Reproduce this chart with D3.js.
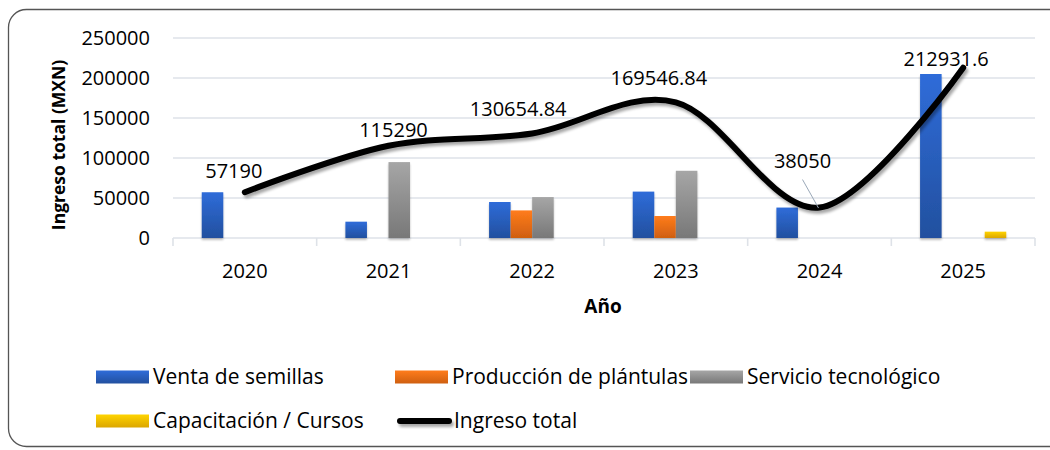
<!DOCTYPE html>
<html>
<head>
<meta charset="utf-8">
<script src="https://cdn.jsdelivr.net/npm/d3@7"></script>
<style>
  html, body { margin: 0; padding: 0; background: #fff; }
  svg { display: block; }
  text { font-family: "Open Sans", Lato, sans-serif; fill: #000; }
</style>
</head>
<body>
<svg id="chart" width="1050" height="450"></svg>
<script>
// ---- Data ----
const years = ["2020", "2021", "2022", "2023", "2024", "2025"];
const seriesNames = ["Venta de semillas", "Producción de plántulas", "Servicio tecnológico", "Capacitación / Cursos"];
const ventaSemillas = [57190, 20400, 45000, 58000, 38050, 205000];
const produccionPlantulas = [0, 0, 34500, 27500, 0, 0];
const servicioTecnologico = [0, 94890, 51154.84, 84046.84, 0, 0];
const capacitacionCursos = [0, 0, 0, 0, 0, 7931.6];
const ingresoTotal = [57190, 115290, 130654.84, 169546.84, 38050, 212931.6];
const totalLabels = ["57190", "115290", "130654.84", "169546.84", "38050", "212931.6"];
const yTicks = [0, 50000, 100000, 150000, 200000, 250000];
const lineName = "Ingreso total";

// ---- Layout ----
const svg = d3.select("#chart");
const plot = { left: 173, right: 1035, top: 38, bottom: 238 };
const seriesValues = [ventaSemillas, produccionPlantulas, servicioTecnologico, capacitacionCursos];
const gradColors = [["#2F6CD9", "#22509F"], ["#FF7C1C", "#CF5F10"], ["#A6A6A6", "#787878"], ["#FFD400", "#DBA600"]];
// label offsets (px) relative to each point, as Excel placed them
const labelDx = [-11, 5, -14, -17, -17, -17];
const labelDy = [-14, -9, -17.5, -17, -40, -2];

const defs = svg.append("defs");
gradColors.forEach((c, i) => {
  const g = defs.append("linearGradient").attr("id", "grad" + i)
    .attr("x1", 0).attr("y1", 0).attr("x2", 0).attr("y2", 1);
  g.append("stop").attr("offset", "0%").attr("stop-color", c[0]);
  g.append("stop").attr("offset", "100%").attr("stop-color", c[1]);
});
const fl = defs.append("filter").attr("id", "shadow").attr("filterUnits", "userSpaceOnUse")
  .attr("x", 0).attr("y", 0).attr("width", 1050).attr("height", 450);
fl.append("feGaussianBlur").attr("in", "SourceAlpha").attr("stdDeviation", 1.6).attr("result", "b");
fl.append("feOffset").attr("in", "b").attr("dx", 2).attr("dy", 3).attr("result", "o");
fl.append("feComponentTransfer").attr("in", "o").attr("result", "o2")
  .append("feFuncA").attr("type", "linear").attr("slope", 0.35);
const fm = fl.append("feMerge");
fm.append("feMergeNode").attr("in", "o2");
fm.append("feMergeNode").attr("in", "SourceGraphic");

const fb = defs.append("filter").attr("id", "barshadow").attr("filterUnits", "userSpaceOnUse")
  .attr("x", 0).attr("y", 0).attr("width", 1050).attr("height", 450);
fb.append("feGaussianBlur").attr("in", "SourceAlpha").attr("stdDeviation", 1.2).attr("result", "b");
fb.append("feOffset").attr("in", "b").attr("dx", 0).attr("dy", 2).attr("result", "o");
fb.append("feComponentTransfer").attr("in", "o").attr("result", "o2")
  .append("feFuncA").attr("type", "linear").attr("slope", 0.25);
const fbm = fb.append("feMerge");
fbm.append("feMergeNode").attr("in", "o2");
fbm.append("feMergeNode").attr("in", "SourceGraphic");

// border
svg.append("rect").attr("x", 8.5).attr("y", 9.5).attr("width", 1060).attr("height", 437)
  .attr("rx", 18).attr("fill", "none").attr("stroke", "#555").attr("stroke-width", 1.3);

// scales
const x0 = d3.scaleBand().domain(years).range([plot.left, plot.right]).paddingInner(0.4).paddingOuter(0.2);
const xCat = d3.scaleBand().domain(years).range([plot.left, plot.right]);
const x1 = d3.scaleBand().domain(d3.range(seriesNames.length)).range([0, x0.bandwidth()]);
const y = d3.scaleLinear().domain([0, 250000]).range([plot.bottom, plot.top]);

// gridlines
svg.append("g").selectAll("line").data(yTicks.filter(d => d > 0)).join("line")
  .attr("x1", plot.left).attr("x2", plot.right)
  .attr("y1", d => y(d)).attr("y2", d => y(d))
  .attr("stroke", "#DEE2E8").attr("stroke-width", 1.6);

// y tick labels
svg.append("g").selectAll("text").data(yTicks).join("text")
  .attr("x", 150).attr("y", d => y(d)).attr("dy", "0.35em")
  .attr("text-anchor", "end").attr("font-size", 20).text(d => d);

// x axis line and ticks
const xb = [...years.map(d => xCat(d)), plot.right];
svg.append("line").attr("x1", plot.left).attr("x2", plot.right)
  .attr("y1", plot.bottom).attr("y2", plot.bottom).attr("stroke", "#DEE2E8").attr("stroke-width", 1.6);
svg.append("g").selectAll("line").data(xb).join("line")
  .attr("x1", d => d).attr("x2", d => d).attr("y1", plot.bottom).attr("y2", plot.bottom + 8)
  .attr("stroke", "#DEE2E8").attr("stroke-width", 1.6);

// x tick labels
svg.append("g").selectAll("text").data(years).join("text")
  .attr("x", d => xCat(d) + xCat.bandwidth() / 2).attr("y", 278)
  .attr("text-anchor", "middle").attr("font-size", 20).text(d => d);

// axis titles
svg.append("text").attr("x", 603).attr("y", 313).attr("text-anchor", "middle")
  .attr("font-size", 19).attr("font-weight", "bold").text("Año");
svg.append("text").attr("transform", "translate(65,145) rotate(-90)").attr("text-anchor", "middle")
  .attr("font-size", 17.5).attr("font-weight", "bold").text("Ingreso total (MXN)");

// bars
const barG = svg.append("g").attr("filter", "url(#barshadow)");
seriesValues.forEach((vals, si) => {
  barG.append("g").selectAll("rect").data(vals.map((v, i) => ({ year: years[i], v })).filter(d => d.v > 0)).join("rect")
    .attr("x", d => x0(d.year) + x1(si)).attr("width", x1.bandwidth())
    .attr("y", d => y(d.v)).attr("height", d => y(0) - y(d.v))
    .attr("fill", "url(#grad" + si + ")");
});

// line
const cx = d => xCat(d) + xCat.bandwidth() / 2;
const pts = years.map((d, i) => [cx(d), y(ingresoTotal[i])]);
const lineGen = d3.line().curve(d3.curveCatmullRom.alpha(0));
svg.append("path").attr("d", lineGen(pts)).attr("fill", "none")
  .attr("stroke", "#000").attr("stroke-width", 6).attr("stroke-linecap", "round")
  .attr("filter", "url(#shadow)");

// leader line for 2024 label
svg.append("line").attr("x1", pts[4][0] - 17).attr("y1", pts[4][1] - 28)
  .attr("x2", pts[4][0] - 1).attr("y2", pts[4][1] + 0.5)
  .attr("stroke", "#9AA8B8").attr("stroke-width", 1);

// data labels
svg.append("g").selectAll("text").data(totalLabels).join("text")
  .attr("x", (d, i) => pts[i][0] + labelDx[i]).attr("y", (d, i) => pts[i][1] + labelDy[i])
  .attr("text-anchor", "middle").attr("font-size", 20).text(d => d);

// legend
const legendItems = [
  { name: seriesNames[0], type: "bar", idx: 0, x: 96, y: 377 },
  { name: seriesNames[1], type: "bar", idx: 1, x: 395, y: 377 },
  { name: seriesNames[2], type: "bar", idx: 2, x: 690, y: 377 },
  { name: seriesNames[3], type: "bar", idx: 3, x: 96, y: 421 },
  { name: lineName, type: "line", x: 397, y: 421 }
];
const lg = svg.append("g");
legendItems.forEach(it => {
  if (it.type === "bar") {
    lg.append("rect").attr("x", it.x).attr("y", it.y - 6.5).attr("width", 53).attr("height", 13)
      .attr("fill", "url(#grad" + it.idx + ")");
  } else {
    lg.append("line").attr("x1", it.x + 3).attr("x2", it.x + 52).attr("y1", it.y).attr("y2", it.y)
      .attr("stroke", "#000").attr("stroke-width", 6).attr("stroke-linecap", "round").attr("filter", "url(#shadow)");
  }
  lg.append("text").attr("x", it.x + 57).attr("y", it.y).attr("dy", "0.35em")
    .attr("font-size", 21).text(it.name);
});
</script>
</body>
</html>
